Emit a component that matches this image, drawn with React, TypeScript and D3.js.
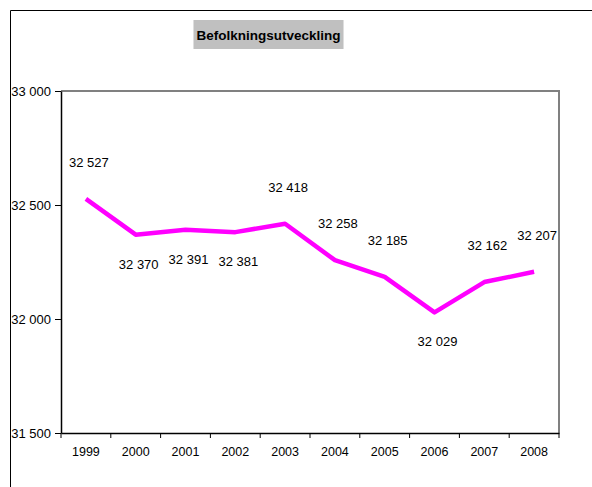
import React, { useEffect, useRef } from 'react'
import * as d3 from 'd3'

const years = ['1999', '2000', '2001', '2002', '2003', '2004', '2005', '2006', '2007', '2008']
const population = [32527, 32370, 32391, 32381, 32418, 32258, 32185, 32029, 32162, 32207]
// which side of the line each value label sits on
const labelSide = ['above', 'below', 'below', 'below', 'above', 'above', 'above', 'below', 'above', 'above']
const yTicks = [31500, 32000, 32500, 33000]
const title = 'Befolkningsutveckling'

const W = 592
const H = 487

const fmt = (v: number) => d3.format(',')(v).replace(',', ' ')

export default function App() {
  const ref = useRef<SVGSVGElement>(null)

  useEffect(() => {
    const svg = d3.select(ref.current)
    svg.selectAll('*').remove()

    const margin = { top: 91, right: 33, bottom: 54, left: 61 }
    const width = W - margin.left - margin.right
    const height = H - margin.top - margin.bottom
    const font = 'Liberation Sans, Arial, sans-serif'

    // outer chart frame (cut off at right and bottom)
    svg.append('path')
      .attr('d', `M10.5,${H} L10.5,10.5 L${W},10.5`)
      .attr('fill', 'none')
      .attr('stroke', '#000')
      .attr('stroke-width', 1)

    // title
    const titleG = svg.append('g')
    const titleText = titleG.append('text')
      .attr('x', 268.5)
      .attr('y', 39.5)
      .attr('text-anchor', 'middle')
      .attr('font-family', font)
      .attr('font-weight', 'bold')
      .attr('font-size', 13.5)
      .attr('fill', '#000')
      .text(title)
    const bb = (titleText.node() as SVGTextElement).getBBox()
    titleG.insert('rect', 'text')
      .attr('x', bb.x - 3)
      .attr('y', 20)
      .attr('width', bb.width + 6)
      .attr('height', 29)
      .attr('fill', '#c0c0c0')

    const g = svg.append('g').attr('transform', `translate(${margin.left},${margin.top})`)

    const x = d3.scaleBand().domain(years).range([0, width])
    const y = d3.scaleLinear().domain([31500, 33000]).range([height, 0])

    // plot area border (gray top and right)
    g.append('path')
      .attr('d', `M0,0 L${width},0 L${width},${height}`)
      .attr('fill', 'none')
      .attr('stroke', '#808080')
      .attr('stroke-width', 2)

    // y axis
    const yAxis = g.append('g')
      .call(d3.axisLeft(y).tickValues(yTicks).tickSize(6).tickSizeOuter(0).tickFormat(d => fmt(d as number)))
    yAxis.select('.domain').attr('stroke', '#000').attr('stroke-width', 1.5)
    yAxis.selectAll('.tick line').attr('stroke', '#000')
    yAxis.selectAll('.tick text')
      .attr('font-family', font)
      .attr('font-size', 13)
      .attr('fill', '#000')
      .attr('x', -10)

    // x axis with ticks between categories
    const xAxis = g.append('g').attr('transform', `translate(0,${height})`)
      .call(d3.axisBottom(x).tickSize(0).tickPadding(14))
    xAxis.select('.domain').attr('stroke', '#000').attr('stroke-width', 1.5)
    xAxis.selectAll('.tick text')
      .attr('font-family', font)
      .attr('font-size', 12.5)
      .attr('fill', '#000')
    xAxis.selectAll('line.sep')
      .data(d3.range(years.length + 1))
      .enter().append('line')
      .attr('class', 'sep')
      .attr('x1', i => i * x.step())
      .attr('x2', i => i * x.step())
      .attr('y1', 0)
      .attr('y2', 5)
      .attr('stroke', '#000')

    const cx = (i: number) => (x(years[i]) as number) + x.bandwidth() / 2

    const pathLine = d3.line<number>()
      .x((d, i) => cx(i))
      .y(d => y(d))

    g.append('path')
      .datum(population)
      .attr('fill', 'none')
      .attr('stroke', '#ff00ff')
      .attr('stroke-width', 4.5)
      .attr('stroke-linejoin', 'round')
      .attr('d', pathLine)

    g.selectAll('text.val')
      .data(population)
      .enter().append('text')
      .attr('class', 'val')
      .attr('x', (d, i) => cx(i) + 3)
      .attr('y', (d, i) => y(d) + (labelSide[i] === 'above' ? -32 : 34))
      .attr('text-anchor', 'middle')
      .attr('font-family', font)
      .attr('font-size', 13)
      .attr('fill', '#000')
      .text(d => fmt(d))
  }, [])

  return (
    <svg
      ref={ref}
      width={W}
      height={H}
      style={{ position: 'absolute', left: 0, top: 0, background: '#fff' }}
    />
  )
}
